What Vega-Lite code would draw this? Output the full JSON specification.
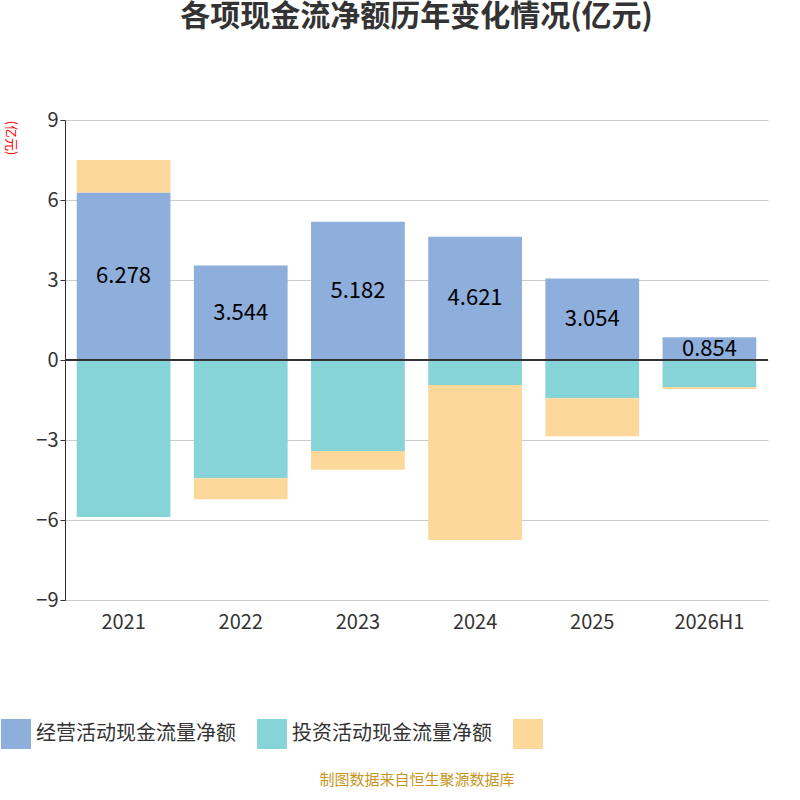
{
  "$schema": "https://vega.github.io/schema/vega-lite/v6.json",
  "width": 703,
  "height": 480,
  "autosize": "none",
  "padding": {"left": 65, "top": 120, "right": 32, "bottom": 200},
  "background": "white",
  "config": {"font": "Noto Sans CJK SC", "view": {"stroke": null}},
  "title": {"text": "各项现金流净额历年变化情况(亿元)", "fontSize": 30, "fontWeight": "bold", "color": "#333333", "offset": 78, "anchor": "middle"},
  "data": {"values": [
    {"year": "2021", "type": "经营活动现金流量净额", "o": 1, "v": 6.278},
    {"year": "2021", "type": "投资活动现金流量净额", "o": 2, "v": -5.89},
    {"year": "2021", "type": "筹资活动现金流量净额", "o": 3, "v": 1.22},
    {"year": "2022", "type": "经营活动现金流量净额", "o": 1, "v": 3.544},
    {"year": "2022", "type": "投资活动现金流量净额", "o": 2, "v": -4.43},
    {"year": "2022", "type": "筹资活动现金流量净额", "o": 3, "v": -0.79},
    {"year": "2023", "type": "经营活动现金流量净额", "o": 1, "v": 5.182},
    {"year": "2023", "type": "投资活动现金流量净额", "o": 2, "v": -3.41},
    {"year": "2023", "type": "筹资活动现金流量净额", "o": 3, "v": -0.71},
    {"year": "2024", "type": "经营活动现金流量净额", "o": 1, "v": 4.621},
    {"year": "2024", "type": "投资活动现金流量净额", "o": 2, "v": -0.94},
    {"year": "2024", "type": "筹资活动现金流量净额", "o": 3, "v": -5.81},
    {"year": "2025", "type": "经营活动现金流量净额", "o": 1, "v": 3.054},
    {"year": "2025", "type": "投资活动现金流量净额", "o": 2, "v": -1.43},
    {"year": "2025", "type": "筹资活动现金流量净额", "o": 3, "v": -1.43},
    {"year": "2026H1", "type": "经营活动现金流量净额", "o": 1, "v": 0.854},
    {"year": "2026H1", "type": "投资活动现金流量净额", "o": 2, "v": -1.01},
    {"year": "2026H1", "type": "筹资活动现金流量净额", "o": 3, "v": -0.08}
  ]},
  "layer": [
    {
      "mark": {"type": "bar"},
      "encoding": {
        "x": {"field": "year", "type": "nominal", "scale": {"paddingInner": 0.2, "paddingOuter": 0.1},
          "axis": {"labelAngle": 0, "labelFontSize": 20, "labelColor": "#333", "domain": false, "ticks": false, "labelPadding": 12,
            "title": "制图数据来自恒生聚源数据库", "titleFontSize": 15, "titleFontWeight": "normal", "titleColor": "#c8961e", "titlePadding": 140}},
        "y": {"field": "v", "type": "quantitative", "stack": "zero", "scale": {"domain": [-9, 9], "nice": false},
          "axis": {"values": [-9, -6, -3, 0, 3, 6, 9], "labelFontSize": 20, "labelColor": "#333", "gridColor": "#cccccc", "domainColor": "#333", "tickColor": "#333",
            "title": "(亿元)", "titleColor": "red", "titleFontSize": 13, "titleFontWeight": "normal", "titleAngle": 90, "titleX": -62, "titleY": 0, "titleAlign": "left"}},
        "color": {"field": "type", "type": "nominal",
          "scale": {"domain": ["经营活动现金流量净额", "投资活动现金流量净额", "筹资活动现金流量净额"], "range": ["#8eaedb", "#86d4d8", "#fdd89b"]},
          "legend": {"orient": "none", "legendX": -65, "legendY": 598, "direction": "horizontal", "title": null,
            "symbolType": "square", "symbolSize": 900, "labelFontSize": 20, "labelColor": "#333", "columnPadding": 20, "labelLimit": 0,
            "labelExpr": "datum.label == '筹资活动现金流量净额' ? '' : datum.label"}},
        "order": {"field": "o"}
      }
    },
    {
      "mark": {"type": "rule", "color": "#333"},
      "encoding": {"y": {"datum": 0}}
    },
    {
      "transform": [{"filter": "datum.o == 1"}, {"calculate": "datum.v / 2", "as": "m"}],
      "mark": {"type": "text", "fontSize": 22, "color": "black"},
      "encoding": {
        "x": {"field": "year", "type": "nominal"},
        "y": {"field": "m", "type": "quantitative"},
        "text": {"field": "v", "type": "quantitative", "format": ".3f"}
      }
    }
  ]
}
